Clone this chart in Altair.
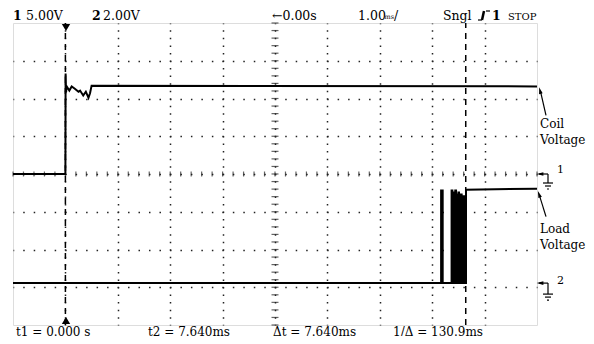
import altair as alt
import pandas as pd
import numpy as np

# ---------------- values ----------------
CH1_V_PER_DIV = 5.0      # "1 5.00V"
CH2_V_PER_DIV = 2.0      # "2 2.00V"
CH1_GROUND_DIV = 0.0     # ground marker 1 (screen divisions)
CH2_GROUND_DIV = -2.89   # ground marker 2 (screen divisions)

# Coil voltage (channel 1), time in ms, volts
coil_t = [-1.0, 0.0, 0.004, 0.012, 0.025, 0.075, 0.12, 0.18, 0.25, 0.28,
          0.34, 0.39, 0.44, 0.47, 0.50, 9.0]
coil_v = [0.0, 0.0, 13.3, 10.8, 11.6, 11.05, 11.6, 11.3, 10.9, 11.05,
          10.4, 10.9, 10.1, 10.7, 11.7, 11.6]

# Load voltage (channel 2) with contact bounce, time in ms, volts
load_t = [-1.0, 7.17, 7.17, 7.20, 7.20,
          7.37, 7.37, 7.385, 7.385,
          7.405, 7.405, 7.42, 7.42,
          7.44, 7.44, 7.455, 7.455,
          7.47, 7.47, 7.485, 7.485,
          7.50, 7.50, 7.512, 7.512,
          7.525, 7.525, 7.537, 7.537,
          7.55, 7.55, 7.562, 7.562,
          7.575, 7.575, 7.587, 7.587,
          7.60, 7.60, 7.61, 7.61,
          7.62, 7.62, 7.63, 7.63,
          7.645, 7.645, 9.0]
load_v = [0.0, 0.0, 4.9, 4.9, 0.0,
          0.0, 4.9, 4.9, 0.0,
          0.0, 4.8, 4.8, 0.0,
          0.0, 4.9, 4.9, 0.0,
          0.0, 4.7, 4.7, 0.0,
          0.0, 4.8, 4.8, 0.0,
          0.0, 4.6, 4.6, 0.0,
          0.0, 4.7, 4.7, 0.0,
          0.0, 4.5, 4.5, 0.0,
          0.0, 4.6, 4.6, 0.0,
          0.0, 4.5, 4.5, 0.0,
          0.0, 4.95, 5.0]

cursor_t = [0.0, 7.64]   # t1, t2 (ms)

header_normal = ["5.00V", "2.00V", "\u21900.00s", "1.00", "/", "Sngl"]
header_bold = ["1", "2", "1"]
footer = ["t1 = 0.000 s", "t2 = 7.640ms", "\u0394t = 7.640ms", "1/\u0394 = 130.9ms"]
side_labels = ["Coil", "Voltage", "Load", "Voltage"]
ground_labels = ["1", "2"]

# ---------------- screen geometry helpers ----------------
PX0, PY0, PW, PH = 13, 23, 524, 302   # plot rect on the page
SVG_W, SVG_H = 578, 328
def sx(px):   # page x -> ms
    return (px - PX0) / (PW / 10) - 1
def sy(py):   # page y -> divisions
    return 4 - (py - PY0) / (PH / 8)
def py(d):    # divisions -> page y
    return PY0 + (4 - d) * PH / 8

FONT = "DejaVu Serif"
xs = alt.Scale(domain=[-1, 9], nice=False, zero=False)
ys = alt.Scale(domain=[-4, 4], nice=False, zero=False)
xaxis = alt.Axis(values=list(range(0, 9)), labels=False, ticks=False, domain=False,
                 title=None, grid=True, gridColor="#222", gridWidth=1.5,
                 gridDash=[1.5, PH / 40 - 1.5], gridDashOffset=0.75)
yaxis = alt.Axis(values=list(range(-3, 4)), labels=False, ticks=False, domain=False,
                 title=None, grid=True, gridColor="#222", gridWidth=1.5,
                 gridDash=[1.5, PW / 50 - 1.5], gridDashOffset=0.75)
def X(f): return alt.X(f, type="quantitative", scale=xs, axis=xaxis)
def Y(f): return alt.Y(f, type="quantitative", scale=ys, axis=yaxis)

coil = pd.DataFrame({"t": coil_t,
                     "d": [v / CH1_V_PER_DIV + CH1_GROUND_DIV for v in coil_v],
                     "i": range(len(coil_t))})
load = pd.DataFrame({"t": load_t,
                     "d": [v / CH2_V_PER_DIV + CH2_GROUND_DIV for v in load_v],
                     "i": range(len(load_t))})

# center-line minor ticks
xmin = pd.DataFrame({"x": np.round(np.arange(-1, 9.001, 0.2), 3), "y": 0.0})
ymin = pd.DataFrame({"y": np.round(np.arange(-4, 4.001, 0.2), 3), "x": 4.0})

grid_layer = alt.Chart(xmin).mark_tick(orient="vertical", size=5, thickness=1.2,
                                       color="#222").encode(x=X("x"), y=Y("y"))
ytick_layer = alt.Chart(ymin).mark_tick(orient="horizontal", size=7, thickness=1.2,
                                        color="#222").encode(x=X("x"), y=Y("y"))

cur = pd.DataFrame({"t": cursor_t, "y0": -4.0, "y1": 4.0})
cursor_layer = alt.Chart(cur).mark_rule(color="black", strokeWidth=1.5,
                                        strokeDash=[6, 5]).encode(
    x=X("t"), y=Y("y0"), y2="y1")

coil_layer = alt.Chart(coil).mark_line(color="black", strokeWidth=2).encode(
    x=X("t"), y=Y("d"), order="i:Q")
load_layer = alt.Chart(load).mark_line(color="black", strokeWidth=2).encode(
    x=X("t"), y=Y("d"), order="i:Q")

# trigger position markers
trig = pd.DataFrame({"x": [sx(66), sx(66)], "y": [sy(py(4) + 4.5), sy(py(-4) - 4.5)],
                     "s": ["triangle-down", "triangle-up"]})
trig_layer = alt.Chart(trig).mark_point(filled=True, color="black", size=70, opacity=1).encode(
    x=X("x"), y=Y("y"),
    shape=alt.Shape("s:N", scale=alt.Scale(domain=["triangle-down", "triangle-up"],
                                           range=["triangle-down", "triangle-up"]),
                    legend=None))

# annotation segments (page px)
g1 = py(CH1_GROUND_DIV)
g2 = py(CH2_GROUND_DIV)
coil_lvl = py(coil_v[-1] / CH1_V_PER_DIV + CH1_GROUND_DIV)
load_lvl = py(load_v[-2] / CH2_V_PER_DIV + CH2_GROUND_DIV)
segs_px = [
    (546, coil_lvl + 29, 540.5, coil_lvl + 5),      # coil arrow
    (546, load_lvl + 27, 539.5, load_lvl + 6),      # load arrow
    (539, g1, 548, g1), (548, g1, 548, g1 + 9),
    (543, g1 + 9, 553, g1 + 9), (545, g1 + 12, 551, g1 + 12), (547, g1 + 15, 549, g1 + 15),
    (539, g2, 548, g2), (548, g2, 548, g2 + 11),
    (543, g2 + 11, 553, g2 + 11), (545, g2 + 14, 551, g2 + 14), (547, g2 + 17, 549, g2 + 17),
    (478, 20, 482, 20), (486, 11, 490, 11),
]
segs = pd.DataFrame([{"x": sx(a), "y": sy(b), "x2": sx(c), "y2": sy(d)}
                     for a, b, c, d in segs_px])
seg_layer = alt.Chart(segs).mark_rule(color="black", strokeWidth=1.2).encode(
    x=X("x"), y=Y("y"), x2="x2", y2="y2")
trig_icon = pd.DataFrame({"x": [sx(484)], "y": [sy(11)], "x2": [sx(482)], "y2": [sy(20)]})
trig_icon_layer = alt.Chart(trig_icon).mark_rule(color="black", strokeWidth=2.5).encode(
    x=X("x"), y=Y("y"), x2="x2", y2="y2")

heads = pd.DataFrame({"x": [sx(540), sx(539), sx(540), sx(540)],
                      "y": [sy(coil_lvl + 4), sy(load_lvl + 4.5), sy(g1), sy(g2)],
                      "a": [345, 340, 270, 270]})
head_layer = alt.Chart(heads).mark_point(filled=True, color="black", opacity=1, size=45,
                                         shape="M0,-1L0.55,1L-0.55,1Z").encode(
    x=X("x"), y=Y("y"), angle=alt.Angle("a:Q", scale=None))

def text_layer(labels, pxs, pys, size, weight="normal"):
    df = pd.DataFrame({"label": labels, "x": [sx(p) for p in pxs], "y": [sy(p) for p in pys]})
    return alt.Chart(df).mark_text(font=FONT, fontSize=size, fontWeight=weight,
                                   align="left", baseline="alphabetic",
                                   color="black").encode(x=X("x"), y=Y("y"), text="label:N")

t_norm = text_layer(header_normal, [26, 103, 272, 358, 394, 443], [19.5] * 6, 12.5)
t_bold = text_layer(header_bold, [13, 92, 492], [19.5] * 3, 12.5, "bold")
t_ms = text_layer(["ms"], [384.5], [18.5], 6.5)
t_stop = text_layer(["STOP"], [508], [19.5], 10)
t_foot = text_layer(footer, [16, 148, 273, 393], [335.5] * 4, 12)
t_side = text_layer(side_labels, [540] * 4, [128, 144, 233, 249], 12)
t_gnd = text_layer(ground_labels, [557, 557], [g1 - 1, g2 + 1], 11)

chart = alt.layer(
    grid_layer, ytick_layer, cursor_layer, coil_layer, load_layer, trig_layer,
    seg_layer, trig_icon_layer, head_layer,
    t_norm, t_bold, t_ms, t_stop, t_foot, t_side, t_gnd
).properties(
    width=PW, height=PH,
    autosize=alt.AutoSizeParams(type="none"),
    padding={"left": PX0 - 8, "top": PY0 - 8, "right": SVG_W - (PX0 - 8) - PW,
             "bottom": SVG_H - (PY0 - 8) - PH},
).configure_view(stroke="black", strokeWidth=2).configure(background="white")

chart.save("out.html", embed_options={"renderer": "svg", "actions": False})
